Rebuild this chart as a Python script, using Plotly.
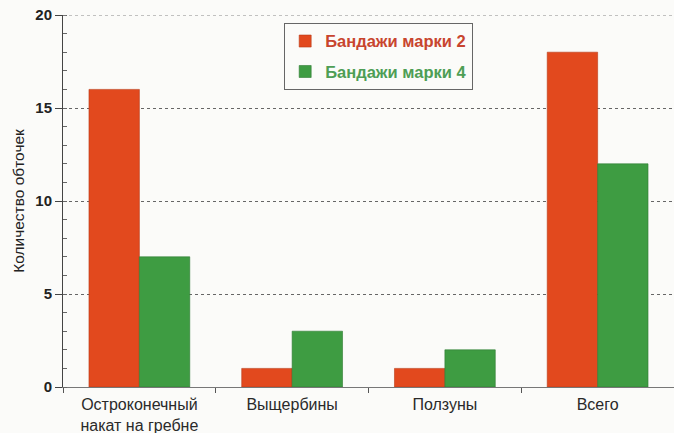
import plotly.graph_objects as go

categories = ["Остроконечный<br>накат на гребне", "Выщербины", "Ползуны", "Всего"]
series_names = ["Бандажи марки 2", "Бандажи марки 4"]
values_m2 = [16, 1, 1, 18]
values_m4 = [7, 3, 2, 12]
y_ticks = [0, 5, 10, 15, 20]

red = "#E2491E"
green = "#3E9C42"

fig = go.Figure()
fig.add_trace(go.Bar(
    x=categories, y=values_m2,
    name=f"<b><span style='color:#C8452E'>{series_names[0]}</span></b>",
    legendgroup="a",
    marker=dict(color=red, line=dict(color="#B83A18", width=0.6)),
))
fig.add_trace(go.Bar(
    x=categories, y=values_m4,
    name=f"<b><span style='color:#4E9E55'>{series_names[1]}</span></b>",
    legendgroup="b",
    marker=dict(color=green, line=dict(color="#2F7A33", width=0.6)),
))

fig.update_layout(
    width=674, height=433,
    margin=dict(l=63, r=0, t=15, b=46),
    paper_bgcolor="#FBFBF9",
    plot_bgcolor="#FBFBF9",
    barmode="group",
    bargap=0.34,
    bargroupgap=0,
    font=dict(family="Liberation Sans, Arial, sans-serif", color="#222"),
    legend=dict(
        x=0.362, y=0.979, xanchor="left", yanchor="top",
        bgcolor="rgba(255,255,255,0)",
        bordercolor="#666", borderwidth=1,
        font=dict(size=16.5),
        itemwidth=30,
        tracegroupgap=6,
    ),
    showlegend=True,
    shapes=[dict(type="line", xref="paper", yref="y", x0=0, x1=1, y0=20, y1=20,
                 line=dict(color="#888", width=1, dash="dot"))],
)

fig.update_xaxes(
    type="category",
    range=[-0.5, 3.5],
    tickson="boundaries",
    ticks="outside", ticklen=5, tickcolor="#555",
    showline=True, linecolor="#777", linewidth=1,
    showgrid=False,
    automargin=False,
    ticklabelstandoff=3,
    tickfont=dict(size=16, color="#2a2a2a"),
)
fig.update_yaxes(
    range=[0, 20],
    tickvals=y_ticks,
    ticktext=[f"<b>{v}</b>" for v in y_ticks],
    ticks="outside", ticklen=7, tickcolor="#444",
    showline=True, linecolor="#444", linewidth=1,
    showgrid=True, gridcolor="#666", griddash="dot", gridwidth=1,
    zeroline=False,
    automargin=False,
    tickfont=dict(size=15, color="#222"),
    minor=dict(dtick=1, ticks="inside", ticklen=4, tickcolor="#666", showgrid=False),
    title=dict(text="Количество обточек", font=dict(size=15.5, color="#222"), standoff=6),
)

fig.write_html("out.html")
